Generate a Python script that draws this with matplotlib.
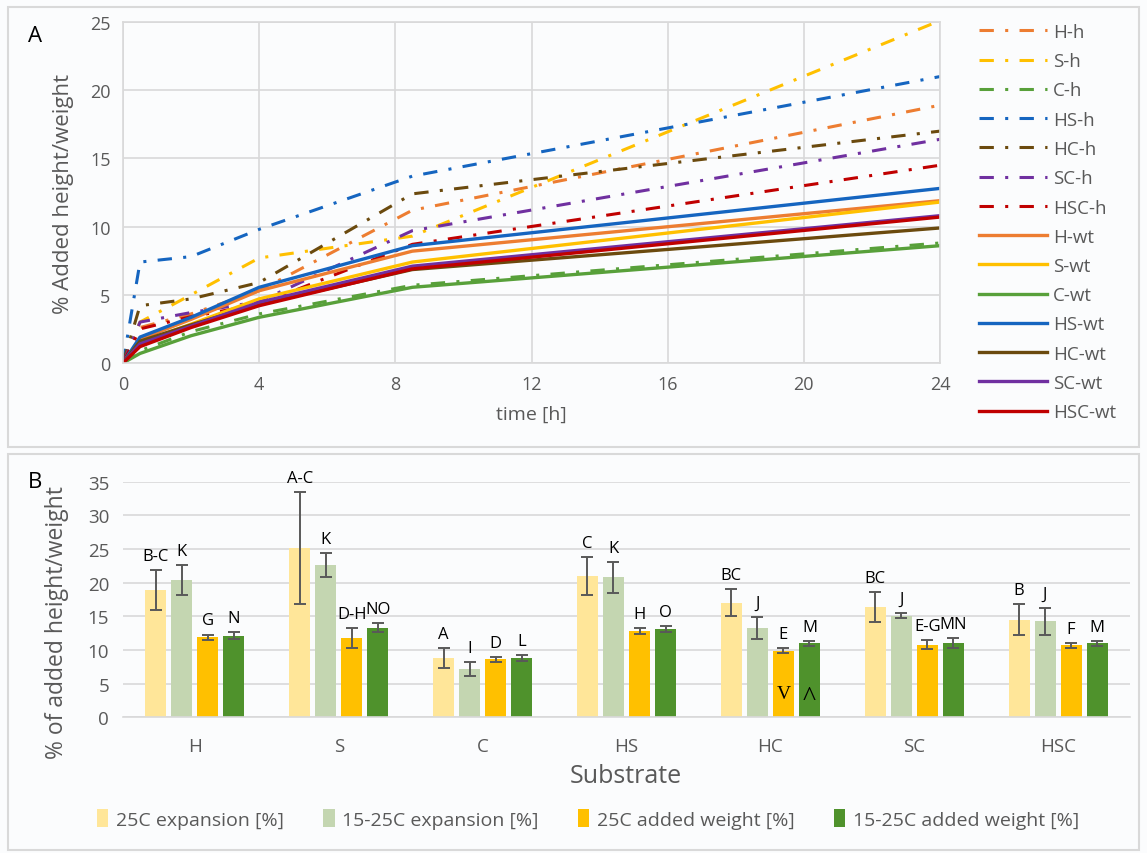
import numpy as np
import matplotlib.pyplot as plt
from matplotlib.patches import Rectangle

plt.rcParams['font.family'] = ['Open Sans', 'DejaVu Sans']

# --- panel A: growth over time (25C) ---
hours = [0, 0.5, 2, 4, 8.5, 24]

H_h = [0, 2.6, 3.6, 5.3, 11.2, 18.9]
S_h = [0, 3.0, 5.0, 7.7, 9.3, 25.1]
C_h = [0, 0.9, 2.3, 3.6, 5.7, 8.8]
HS_h = [0, 7.4, 7.8, 9.8, 13.7, 21.0]
HC_h = [0, 4.2, 4.7, 5.9, 12.4, 17.0]
SC_h = [0, 3.0, 3.7, 4.5, 9.7, 16.4]
HSC_h = [0, 2.5, 3.4, 4.3, 8.7, 14.5]

H_wt = [0, 1.75, 3.2, 5.3, 8.2, 11.9]
S_wt = [0, 1.5, 2.85, 4.7, 7.4, 11.8]
C_wt = [0, 0.7, 2.0, 3.35, 5.55, 8.6]
HS_wt = [0, 1.9, 3.35, 5.55, 8.6, 12.8]
HC_wt = [0, 1.6, 2.8, 4.3, 6.85, 9.9]
SC_wt = [0, 1.4, 2.7, 4.45, 7.1, 10.8]
HSC_wt = [0, 1.2, 2.6, 4.2, 6.9, 10.7]

# --- panel B: values after 24 h ---
substrates = ['H', 'S', 'C', 'HS', 'HC', 'SC', 'HSC']
exp_25 = [18.9, 25.1, 8.8, 21.0, 17.0, 16.4, 14.5]
exp_25_err = [3.0, 8.3, 1.5, 2.85, 2.0, 2.2, 2.3]
exp_1525 = [20.4, 22.6, 7.2, 20.8, 13.3, 15.1, 14.25]
exp_1525_err = [2.2, 1.8, 1.0, 2.3, 1.6, 0.4, 1.95]
wt_25 = [11.9, 11.8, 8.6, 12.8, 9.9, 10.8, 10.7]
wt_25_err = [0.4, 1.5, 0.4, 0.4, 0.35, 0.7, 0.37]
wt_1525 = [12.1, 13.3, 8.8, 13.1, 11.0, 11.0, 11.0]
wt_1525_err = [0.5, 0.7, 0.4, 0.45, 0.4, 0.75, 0.4]
bar_names = ['25C expansion [%]', '15-25C expansion [%]',
             '25C added weight [%]', '15-25C added weight [%]']
letters = [['B-C', 'K', 'G', 'N'], ['A-C', 'K', 'D-H', 'NO'], ['A', 'I', 'D', 'L'],
           ['C', 'K', 'H', 'O'], ['BC', 'J', 'E', 'M'], ['BC', 'J', 'E-G', 'MN'],
           ['B', 'J', 'F', 'M']]

sub_colors = {'H': '#ED7D31', 'S': '#FFC000', 'C': '#58A03A', 'HS': '#1565C0',
              'HC': '#6B4A0E', 'SC': '#7030A0', 'HSC': '#C00000'}
bar_colors = ['#FFE699', '#C4D6B1', '#FFC000', '#4F922C']
grey = '#595959'
grid_c = '#D9D9D9'
bg = '#FBFCFD'

W, H = 1147, 854
fig = plt.figure(figsize=(W / 100, H / 100), dpi=100)
fig.patch.set_facecolor(bg)

# panel frames
for y0, y1 in [(8, 448), (455, 851)]:
    fig.add_artist(Rectangle((8 / W, 1 - y1 / H), (1139 - 8) / W, (y1 - y0) / H,
                             transform=fig.transFigure, fill=False,
                             ec=grid_c, lw=1.5))

# ---------- A ----------
axA = fig.add_axes([123 / W, 1 - 364 / H, (940 - 123) / W, (364 - 23) / H])
axA.set_facecolor(bg)
dashdot = (0, (4.7, 3.7, 1, 3.7))
heights = [('H-h', H_h, 'H'), ('S-h', S_h, 'S'), ('C-h', C_h, 'C'), ('HS-h', HS_h, 'HS'),
           ('HC-h', HC_h, 'HC'), ('SC-h', SC_h, 'SC'), ('HSC-h', HSC_h, 'HSC')]
weights = [('H-wt', H_wt, 'H'), ('S-wt', S_wt, 'S'), ('C-wt', C_wt, 'C'), ('HS-wt', HS_wt, 'HS'),
           ('HC-wt', HC_wt, 'HC'), ('SC-wt', SC_wt, 'SC'), ('HSC-wt', HSC_wt, 'HSC')]
handles = []
for name, vals, s in heights:
    ln, = axA.plot(hours, vals, color=sub_colors[s], lw=2.2, ls=dashdot, label=name)
    handles.append(ln)
for name, vals, s in weights:
    ln, = axA.plot(hours, vals, color=sub_colors[s], lw=2.4, label=name)
    handles.append(ln)

axA.set_xlim(0, 24)
axA.set_ylim(0, 25)
axA.set_xticks(range(0, 25, 4))
axA.set_yticks(range(0, 26, 5))
axA.grid(True, color=grid_c, lw=1.2)
axA.set_axisbelow(True)
axA.tick_params(length=0, labelsize=13, labelcolor=grey, pad=9)
for sp in axA.spines.values():
    sp.set_color(grid_c)
    sp.set_linewidth(1.2)

fig.text(531 / W, 1 - 415 / H, 'time [h]', ha='center', va='center',
         fontsize=14, color=grey)
fig.text(63 / W, 1 - 194 / H, '% Added height/weight', ha='center', va='center',
         rotation=90, fontsize=16, color=grey)
fig.text(35 / W, 1 - 37 / H, 'A', ha='center', va='center', fontsize=16)

fig.legend(handles=handles, loc='upper left', bbox_to_anchor=(979 / W, 1 - 24 / H),
           frameon=False, fontsize=13.5, handlelength=3.6, handletextpad=0.35,
           labelspacing=0.6, borderpad=0, borderaxespad=0, labelcolor=grey)

# ---------- B ----------
axB = fig.add_axes([123 / W, 1 - 718.3 / H, (1130 - 123) / W, (718.3 - 482.7) / H])
axB.set_facecolor(bg)
x = np.arange(len(substrates))
bw = 0.146
pitch = 0.181
series = [(exp_25, exp_25_err), (exp_1525, exp_1525_err),
          (wt_25, wt_25_err), (wt_1525, wt_1525_err)]
bars = []
for i, (vals, err) in enumerate(series):
    xs = x + (i - 1.5) * pitch
    b = axB.bar(xs, vals, bw, yerr=err, color=bar_colors[i], label=bar_names[i],
                capsize=4, error_kw=dict(ecolor=grey, elinewidth=1.4, capthick=1.4))
    bars.append(b)
    for j in range(len(substrates)):
        axB.text(xs[j], vals[j] + err[j] + 0.9, letters[j][i], ha='center',
                 va='bottom', fontsize=12)

# marks inside the HC weight bars
hc = substrates.index('HC')
axB.text(hc + 0.5 * pitch, 2.85, 'V', ha='center', va='baseline',
         family=['Liberation Serif', 'DejaVu Serif'], fontsize=14)
axB.text(hc + 1.5 * pitch, 2.0, '^', ha='center', va='baseline',
         family=['Liberation Serif', 'DejaVu Serif'], fontsize=20)

axB.set_xlim(-0.5, len(substrates) - 0.5)
axB.set_ylim(0, 35)
axB.set_yticks(range(0, 36, 5))
axB.set_xticks(x)
axB.set_xticklabels(substrates)
axB.yaxis.grid(True, color=grid_c, lw=1.2)
axB.set_axisbelow(True)
axB.tick_params(length=0, labelsize=13.5, labelcolor=grey)
axB.tick_params(axis='x', pad=14)
axB.tick_params(axis='y', pad=10)
for k in ['top', 'right', 'left']:
    axB.spines[k].set_visible(False)
axB.spines['bottom'].set_color(grid_c)
axB.spines['bottom'].set_linewidth(1.2)

fig.text(626 / W, 1 - 777 / H, 'Substrate', ha='center', va='center',
         fontsize=18, color=grey)
fig.text(57 / W, 1 - 623 / H, '% of added height/weight', ha='center', va='center',
         rotation=90, fontsize=16.5, color=grey)
fig.text(35 / W, 1 - 483 / H, 'B', ha='center', va='center', fontsize=16)

fig.legend(handles=bars, loc='center', bbox_to_anchor=(588 / W, 1 - 820 / H), ncol=4,
           frameon=False, fontsize=14, handlelength=0.6, handleheight=1.0,
           handletextpad=0.4, columnspacing=2.0, borderpad=0, labelcolor=grey)

fig.savefig('out.png', dpi=100, facecolor=bg)
